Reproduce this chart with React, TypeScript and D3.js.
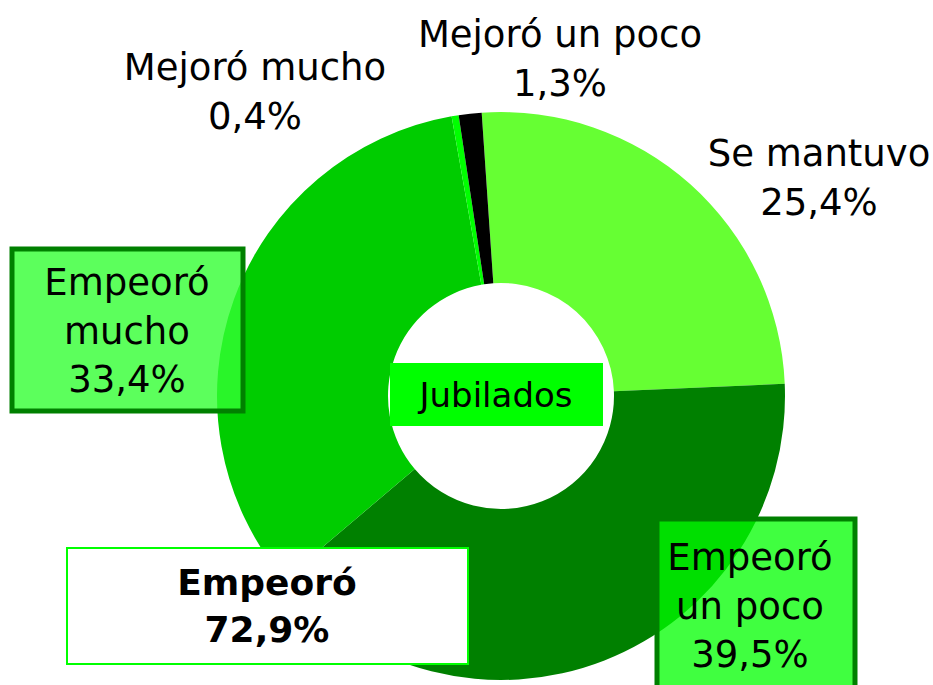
import * as d3 from 'd3';
import React from 'react';

// Jubilados: situación económica
const categories = ['Se mantuvo', 'Empeoró un poco', 'Empeoró mucho', 'Mejoró mucho', 'Mejoró un poco'];
const values = [25.4, 39.5, 33.4, 0.4, 1.3];
const colors = ['#66FF33', '#008000', '#00CC00', '#00FF00', '#000000'];
const totalLabel = ['Empeoró', '72,9%'];
const centerLabel = 'Jubilados';

const fmt = (v: number) => v.toFixed(1).replace('.', ',') + '%';

const W = 933;
const H = 685;
const cx = 501;
const cy = 396;
const outerR = 284;
const innerR = 113;
const startDeg = -3.9;

const FONT = "'DejaVu Sans', Verdana, sans-serif";

interface LabelSpec {
  lines: string[];
  x: number;
  y: number;
  box?: { x: number; y: number; w: number; h: number; fill: string; opacity: number };
}

// label placement for each category
const labelSpecs: Record<string, LabelSpec> = {
  'Se mantuvo': { lines: ['Se mantuvo'], x: 819, y: 166 },
  'Empeoró un poco': {
    lines: ['Empeoró', 'un poco'],
    x: 750,
    y: 570,
    box: { x: 657, y: 519, w: 198, h: 175, fill: '#00FF00', opacity: 0.75 },
  },
  'Empeoró mucho': {
    lines: ['Empeoró', 'mucho'],
    x: 127,
    y: 295,
    box: { x: 12, y: 249, w: 231, h: 162, fill: '#33FF33', opacity: 0.8 },
  },
  'Mejoró mucho': { lines: ['Mejoró mucho'], x: 255, y: 80 },
  'Mejoró un poco': { lines: ['Mejoró un poco'], x: 560, y: 47 },
};

const LINE = 48.5;

const App: React.FC = () => {
  const start = (startDeg * Math.PI) / 180;
  const pie = d3
    .pie<number>()
    .sort(null)
    .startAngle(start)
    .endAngle(start + 2 * Math.PI);
  const arcs = pie(values);
  const arc = d3.arc<d3.PieArcDatum<number>>().innerRadius(innerR).outerRadius(outerR);

  return (
    <svg width={W} height={H} style={{ position: 'absolute', left: 0, top: 0, background: '#fff' }}>
      <g transform={`translate(${cx},${cy})`}>
        {arcs.map((a, i) => (
          <path key={categories[i]} d={arc(a) ?? ''} fill={colors[i]} />
        ))}
      </g>

      {/* centre label */}
      <rect x={390} y={363} width={213} height={63} fill="#00FF00" />
      <text x={496} y={407} textAnchor="middle" fontFamily={FONT} fontSize={34} fill="#000">
        {centerLabel}
      </text>

      {categories.map((c, i) => {
        const s = labelSpecs[c];
        const lines = [...s.lines, fmt(values[i])];
        return (
          <g key={c}>
            {s.box && (
              <rect
                x={s.box.x}
                y={s.box.y}
                width={s.box.w}
                height={s.box.h}
                fill={s.box.fill}
                fillOpacity={s.box.opacity}
                stroke="#008000"
                strokeWidth={5}
              />
            )}
            <text textAnchor="middle" fontFamily={FONT} fontSize={37} fill="#000">
              {lines.map((l, j) => (
                <tspan key={j} x={s.x} y={s.y + j * LINE}>
                  {l}
                </tspan>
              ))}
            </text>
          </g>
        );
      })}

      {/* total for "Empeoró" */}
      <rect x={67} y={548} width={401} height={116} fill="#fff" stroke="#00FF00" strokeWidth={2} />
      <text textAnchor="middle" fontFamily={FONT} fontSize={36} fontWeight="bold" fill="#000">
        {totalLabel.map((l, j) => (
          <tspan key={j} x={267} y={595 + j * 47}>
            {l}
          </tspan>
        ))}
      </text>
    </svg>
  );
};

export default App;
